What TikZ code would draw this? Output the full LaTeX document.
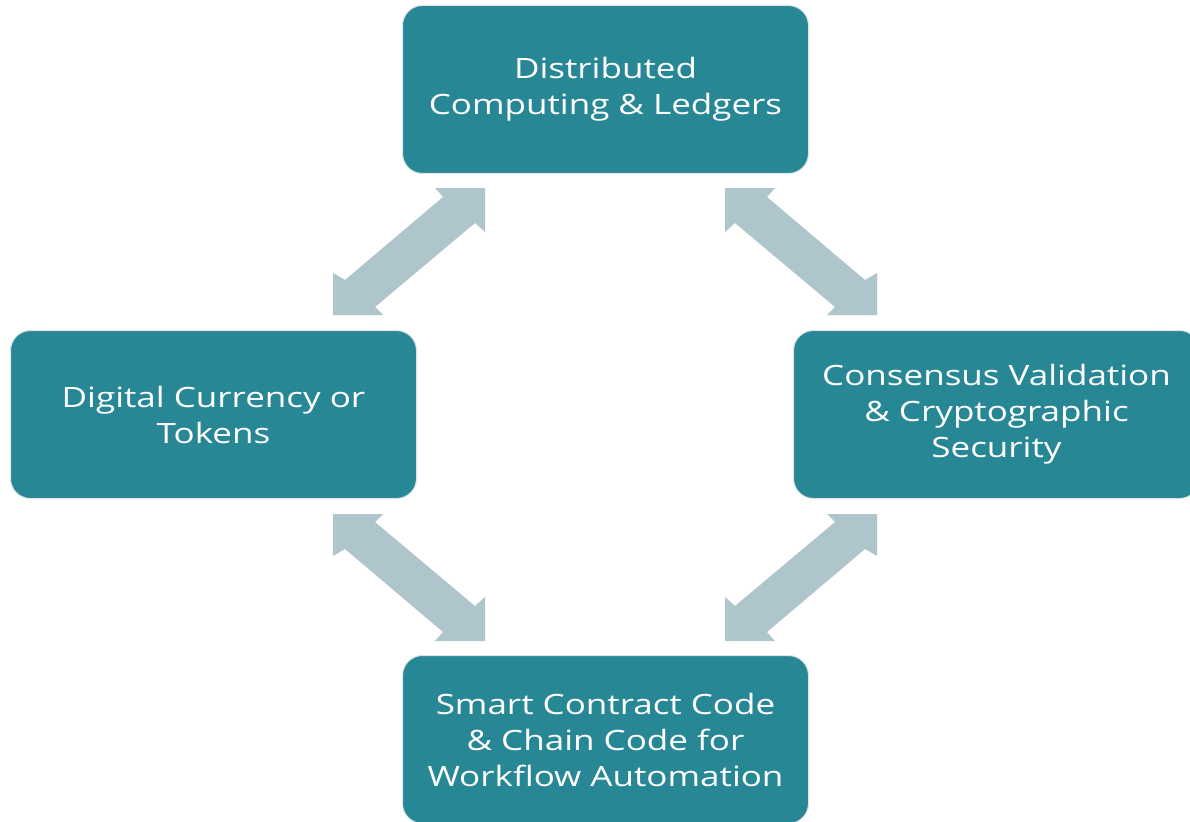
\documentclass[tikz,border=0pt]{standalone}
\usepackage{fontspec}
\setmainfont{Open Sans}[FakeStretch=1.25]
\definecolor{boxteal}{HTML}{288795}
\definecolor{arrowgray}{HTML}{ADC5CB}
\definecolor{boxedge}{HTML}{DCE3E5}
\begin{document}
\begin{tikzpicture}[x=1pt,y=-1pt,
  blockbox/.style={fill=boxteal, draw=boxedge, line width=1pt, rounded corners=20pt,
    minimum width=406pt, minimum height=168pt, text=white, align=center,
    font=\fontsize{28}{36}\selectfont, inner sep=0pt, anchor=north west},
  blockarrow/.style={fill=arrowgray, draw=none}]
\useasboundingbox (0,0) rectangle (1190,821);
\begin{scope}
\clip (0,0) rectangle (1190,821);
\node[blockbox] (top) at (402,5) {Distributed\\Computing \& Ledgers};
\node[blockbox] (left) at (10,330) {Digital Currency or\\Tokens};
\node[blockbox] (right) at (793,330) {Consensus Validation\\\& Cryptographic\\Security};
\node[blockbox] (bottom) at (402,655) {Smart Contract Code\\\& Chain Code for\\Workflow Automation};
\end{scope}
\coordinate (ctr) at (605,414.5);
% top-left and bottom-right arrows
\foreach \s in {1,-1}{
  \begin{scope}[shift={(ctr)}, xscale=\s, yscale=\s]
    \fill[blockarrow] (-120,-226.5) -- (-170,-226.5) -- (-162,-217.5) -- (-260,-134.5)
      -- (-272,-141.5) -- (-272,-99.5) -- (-222,-99.5) -- (-230,-107.5)
      -- (-130,-191.5) -- (-120,-182.5) -- cycle;
  \end{scope}
  \begin{scope}[shift={(ctr)}, xscale=-\s, yscale=\s]
    \fill[blockarrow] (-120,-226.5) -- (-170,-226.5) -- (-162,-217.5) -- (-260,-134.5)
      -- (-272,-141.5) -- (-272,-99.5) -- (-222,-99.5) -- (-230,-107.5)
      -- (-130,-191.5) -- (-120,-182.5) -- cycle;
  \end{scope}
}
\end{tikzpicture}
\end{document}
